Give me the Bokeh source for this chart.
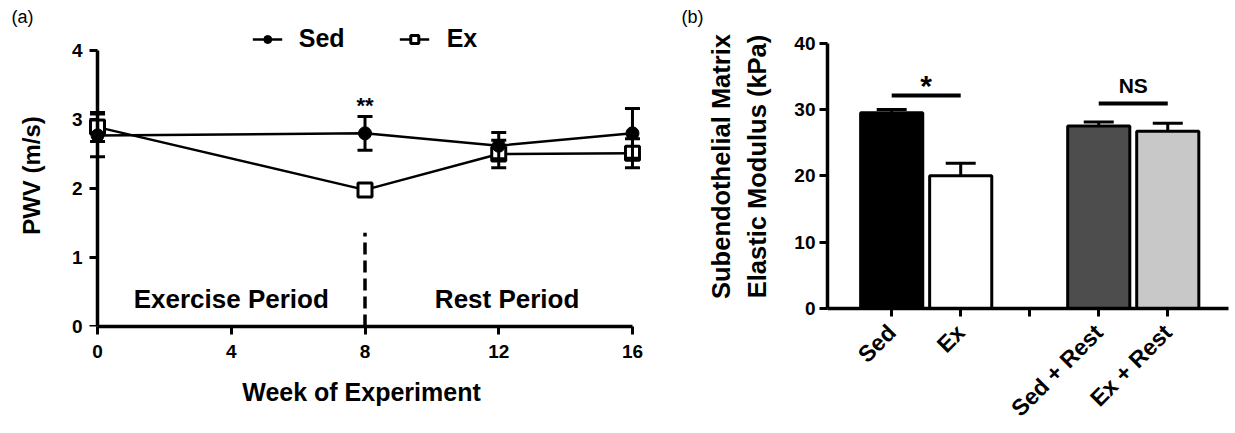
import math
from bokeh.plotting import figure
from bokeh.models import (Range1d, FixedTicker, Legend, LegendItem, ColumnDataSource,
                          LinearAxis, Title)
from bokeh.layouts import row, column
from bokeh.embed import file_html
from bokeh.resources import INLINE
from bokeh.core.properties import value

FONT = "Liberation Sans"

# ---------------- panel (a) data ----------------
weeks = [0, 8, 12, 16]
sed_pwv = [2.77, 2.80, 2.62, 2.80]
sed_sem = [0.31, 0.245, 0.19, 0.36]
ex_pwv = [2.89, 1.98, 2.50, 2.51]
ex_sem = [0.21, 0.05, 0.20, 0.21]
week_ticks = [0, 4, 8, 12, 16]
pwv_ticks = [0, 1, 2, 3, 4]
period_labels = ["Exercise Period", "Rest Period"]
period_x = [4.0, 12.25]
period_y = [0.40, 0.40]
boundary_week = [8]
boundary_top = [1.36]
sig_a_text = ["**"]
sig_a_x = [8]
sig_a_y = [3.20]

# ---------------- panel (b) data ----------------
slots = ["Sed", "Ex", "", "Sed + Rest", "Ex + Rest"]
groups = ["Sed", "Ex", "Sed + Rest", "Ex + Rest"]
modulus = [29.5, 20.0, 27.5, 26.7]
modulus_sem = [0.5, 1.9, 0.6, 1.2]
bar_colors = ["#000000", "#ffffff", "#4d4d4d", "#c8c8c8"]
modulus_ticks = [0, 10, 20, 30, 40]
sig_labels = ["*", "NS"]
sig_left = ["Sed", "Sed + Rest"]
sig_right = ["Ex", "Ex + Rest"]
sig_line_y = [32.1, 30.9]
sig_text_y = [33.6, 33.6]
sig_text_size = ["30px", "21px"]


def style_axis(ax):
    ax.axis_line_width = 3.5
    ax.axis_line_color = "black"
    ax.major_tick_line_width = 3
    ax.major_tick_line_color = "black"
    ax.major_tick_out = 8
    ax.major_tick_in = 0
    ax.minor_tick_line_color = None
    ax.major_label_text_font = FONT
    ax.major_label_text_font_style = "bold"
    ax.major_label_text_font_size = "19px"
    ax.major_label_text_color = "black"
    ax.axis_label_text_font = FONT
    ax.axis_label_text_font_style = "bold"
    ax.axis_label_text_font_size = "24px"
    ax.axis_label_text_color = "black"


def style_fig(p):
    style_axis(p.xaxis[0])
    style_axis(p.yaxis[0])
    p.xgrid.visible = False
    p.ygrid.visible = False
    p.outline_line_color = None
    p.background_fill_color = "white"
    p.border_fill_color = "white"


def panel_title(text, offset):
    return Title(text=text, align="left", offset=offset, standoff=-4,
                 text_font=FONT, text_font_style="normal", text_font_size="18px",
                 text_color="black")


# ================= panel (a) =================
p1 = figure(width=676, height=433, x_range=Range1d(-0.3, 16.3), y_range=Range1d(0, 4.377),
            output_backend="svg", toolbar_location=None,
            title=panel_title("(a)", -76),
            min_border_left=87, min_border_right=34, min_border_top=24, min_border_bottom=107)
style_fig(p1)
p1.xaxis.ticker = FixedTicker(ticks=week_ticks)
p1.xaxis.bounds = (week_ticks[0], week_ticks[-1])
p1.xaxis.axis_label = "Week of  Experiment"
p1.xaxis.axis_label_text_font_size = "25px"
p1.xaxis.major_label_standoff = 10
p1.xaxis.axis_label_standoff = 17

# label-only axis at the frame edge
ylab = p1.yaxis[0]
ylab.ticker = FixedTicker(ticks=pwv_ticks)
ylab.axis_line_color = None
ylab.major_tick_line_color = None
ylab.major_tick_out = 0
ylab.major_label_standoff = 5
ylab.axis_label = "PWV (m/s)"
ylab.axis_label_standoff = 24

# visible axis line at week 0
yline = LinearAxis(fixed_location=week_ticks[0], bounds=(pwv_ticks[0], pwv_ticks[-1]),
                   ticker=FixedTicker(ticks=pwv_ticks))
style_axis(yline)
yline.major_label_overrides = {t: "" for t in pwv_ticks}
yline.major_label_standoff = 0
p1.add_layout(yline, "left")

src_sed = ColumnDataSource(dict(x=weeks, y=sed_pwv,
                                lo=[m - e for m, e in zip(sed_pwv, sed_sem)],
                                hi=[m + e for m, e in zip(sed_pwv, sed_sem)]))
src_ex = ColumnDataSource(dict(x=weeks, y=ex_pwv,
                               lo=[m - e for m, e in zip(ex_pwv, ex_sem)],
                               hi=[m + e for m, e in zip(ex_pwv, ex_sem)]))

ex_line = p1.line("x", "y", source=src_ex, line_color="black", line_width=2.5)
sed_line = p1.line("x", "y", source=src_sed, line_color="black", line_width=2.5)

p1.segment(x0="x", y0="lo", x1="x", y1="hi", source=src_ex, line_color="black", line_width=3)
p1.scatter("x", "lo", source=src_ex, marker="dash", size=15, line_color="black", line_width=3)
p1.scatter("x", "hi", source=src_ex, marker="dash", size=15, line_color="black", line_width=3)
ex_pts = p1.scatter("x", "y", source=src_ex, marker="square", size=14,
                    fill_color="white", line_color="black", line_width=3)

p1.segment(x0="x", y0="lo", x1="x", y1="hi", source=src_sed, line_color="black", line_width=3)
p1.scatter("x", "lo", source=src_sed, marker="dash", size=15, line_color="black", line_width=3)
p1.scatter("x", "hi", source=src_sed, marker="dash", size=15, line_color="black", line_width=3)
sed_pts = p1.scatter("x", "y", source=src_sed, marker="circle", size=13,
                     fill_color="black", line_color="black", line_width=1)

p1.segment(x0=boundary_week, y0=[0], x1=boundary_week, y1=boundary_top,
           line_color="black", line_width=3.5, line_dash="12 6")

p1.text(x=period_x, y=period_y, text=period_labels, text_align="center",
        text_baseline="alphabetic", text_font=value(FONT), text_font_style="bold",
        text_font_size="26px", text_color="black")
p1.text(x=sig_a_x, y=sig_a_y, text=sig_a_text, text_align="center",
        text_baseline="alphabetic", text_font=value(FONT), text_font_style="bold",
        text_font_size="22px", text_color="black")

legend = Legend(items=[LegendItem(label="Sed", renderers=[sed_line, sed_pts]),
                       LegendItem(label="Ex", renderers=[ex_line, ex_pts])],
                location="top_center", orientation="horizontal",
                label_text_font=FONT, label_text_font_style="bold", label_text_font_size="25px",
                label_text_color="black", glyph_width=30, glyph_height=20, label_standoff=17,
                spacing=55, padding=0, margin=0, border_line_color=None,
                background_fill_alpha=0)
p1.add_layout(legend)

# ================= panel (b) =================
pos = [slots.index(g) for g in groups]
p2 = figure(width=557, height=433, x_range=Range1d(-0.93, 4.88), y_range=Range1d(0, 42.8),
            output_backend="svg", toolbar_location=None,
            title=panel_title("(b)", -146),
            min_border_left=151, min_border_right=5, min_border_top=24, min_border_bottom=124)
style_fig(p2)
p2.xaxis.ticker = FixedTicker(ticks=list(range(len(slots))))
p2.xaxis.major_label_overrides = {i: s for i, s in enumerate(slots)}
p2.xaxis.major_label_orientation = math.pi / 4
p2.xaxis.major_label_standoff = 12
p2.xaxis.major_label_text_font_size = "23px"
p2.yaxis.ticker = FixedTicker(ticks=modulus_ticks)
p2.yaxis.bounds = (modulus_ticks[0], modulus_ticks[-1])
p2.yaxis.major_label_standoff = 4
p2.yaxis.axis_label = "Subendothelial Matrix\nElastic Modulus (kPa)"
p2.yaxis.axis_label_text_font_size = "25.5px"
p2.yaxis.axis_label_standoff = 20
p2.yaxis.axis_label_text_line_height = 1.3

src_b = ColumnDataSource(dict(x=pos, top=modulus, color=bar_colors,
                              hi=[m + e for m, e in zip(modulus, modulus_sem)]))
p2.segment(x0="x", y0="top", x1="x", y1="hi", source=src_b, line_color="black", line_width=3)
p2.scatter("x", "hi", source=src_b, marker="dash", size=30, line_color="black", line_width=3)
p2.vbar(x="x", top="top", bottom=0, width=0.9, source=src_b, fill_color="color",
        line_color="black", line_width=3)

p2.segment(x0=[slots.index(s) for s in sig_left], y0=sig_line_y,
           x1=[slots.index(s) for s in sig_right], y1=sig_line_y,
           line_color="black", line_width=4)
src_sig = ColumnDataSource(dict(x=[(slots.index(a) + slots.index(b)) / 2 for a, b in zip(sig_left, sig_right)],
                                y=sig_text_y, text=sig_labels, size=sig_text_size))
p2.text(x="x", y="y", text="text", source=src_sig, text_align="center",
        text_baseline="alphabetic", text_font=value(FONT), text_font_style="bold",
        text_font_size="size", text_color="black")

layout = row(column(p1), column(p2))
open("out.html", "w").write(file_html(layout, INLINE))
